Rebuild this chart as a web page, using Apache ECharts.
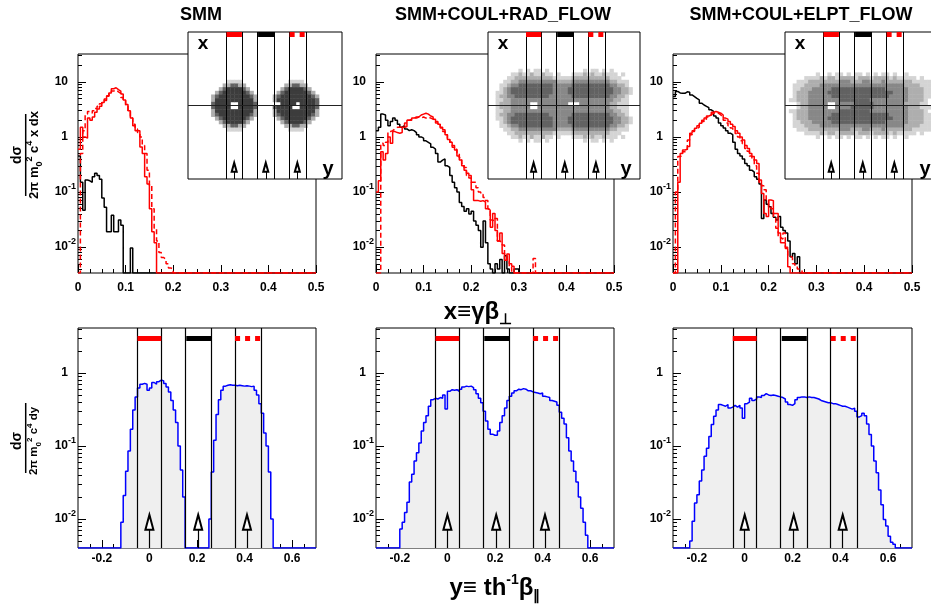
<!DOCTYPE html>
<html>
<head>
<meta charset="utf-8">
<script src="https://cdn.jsdelivr.net/npm/echarts@6/dist/echarts.min.js"></script>
<style>
html, body { margin: 0; padding: 0; background: #ffffff; }
#chart { width: 931px; height: 606px; }
</style>
</head>
<body>
<div id="chart"></div>
<script>
// ===================== DATA =====================
const panelTitles = ['SMM', 'SMM+COUL+RAD_FLOW', 'SMM+COUL+ELPT_FLOW'];

// Top row: dσ/(2π m0² c⁴ x dx) vs x≡γβ⊥ ; histogram bins of 0.005 starting at x = 0 (0 = empty bin)
const xBinWidth = 0.005;
const smmBlack   = [0.45, 0.15, 0.047, 0.165, 0.16, 0.15, 0.19, 0.22, 0.2, 0.17, 0.078, 0.053, 0.019, 0.019, 0.038, 0.019, 0.019, 0.031, 0.025, 0, 0, 0, 0.0097];
const smmRed     = [0.6, 1.5, 1.0, 0.95, 2.2, 2.0, 2.3, 2.8, 3.2, 3.6, 4.2, 4.6, 5.5, 6.3, 7.5, 7.8, 7.2, 6.8, 6.0, 4.7, 3.9, 3.0, 2.2, 1.6, 1.3, 1.3, 0.66, 0.5, 0.19, 0.14, 0.05, 0.019, 0.012];
const smmRedDash = [0, 0.5, 1.3, 2.6, 2.9, 2.7, 3.0, 3.3, 3.6, 4.0, 4.4, 4.9, 5.6, 6.2, 6.8, 7.1, 6.6, 6.2, 5.2, 4.6, 3.6, 2.9, 2.2, 1.7, 1.4, 1.2, 1.0, 0.7, 0.5, 0.25, 0.13, 0.05, 0.022, 0.013, 0.008, 0.0065, 0.006, 0.005, 0.0042, 0.004];

const radBlack   = [1.3, 1.5, 2.6, 2.5, 2.0, 1.6, 1.9, 2.2, 2.0, 1.7, 1.5, 1.6, 1.4, 1.3, 1.35, 1.3, 1.2, 1.1, 1.0, 0.95, 0.85, 0.8, 0.75, 0.65, 0.6, 0.5, 0.35, 0.38, 0.4, 0.3, 0.28, 0.2, 0.15, 0.12, 0.1, 0.065, 0.055, 0.045, 0.05, 0.04, 0.045, 0.03, 0.025, 0.02, 0.01, 0.03, 0.012, 0.005, 0.004, 0, 0.005, 0.004, 0.006, 0, 0.007, 0.004, 0, 0, 0.004, 0.004];
const radRed     = [0.1, 0.16, 0.54, 0.38, 0.5, 1.0, 0.77, 1.25, 1.2, 1.17, 1.2, 1.5, 1.55, 2.0, 2.0, 2.2, 2.3, 2.3, 2.5, 2.6, 2.7, 2.6, 2.4, 2.3, 2.1, 1.9, 1.7, 1.5, 1.35, 1.1, 0.9, 0.8, 0.65, 0.58, 0.45, 0.38, 0.3, 0.25, 0.22, 0.2, 0.11, 0.07, 0.07, 0.068, 0.07, 0.066, 0.05, 0.047, 0.023, 0.041, 0.02, 0.013, 0.018, 0.0077, 0.0058, 0.0075, 0.005, 0.0045];
const radRedDash = [0, 0, 0.77, 0.7, 0.8, 1.25, 1.3, 1.4, 1.5, 1.5, 1.55, 1.6, 1.8, 2.0, 2.1, 2.2, 2.2, 2.3, 2.2, 2.3, 2.2, 2.3, 2.2, 2.1, 2.0, 1.8, 1.6, 1.45, 1.25, 1.1, 0.95, 0.8, 0.7, 0.6, 0.5, 0.42, 0.33, 0.28, 0.2, 0.18, 0.15, 0.15, 0.12, 0.1, 0.09, 0.08, 0.07, 0.05, 0.031, 0.03, 0.033, 0.013, 0.012, 0.011, 0.0075, 0.006, 0.0045, 0, 0, 0, 0, 0, 0, 0, 0, 0, 0.0062];

const elptBlack   = [5.4, 6.7, 6.3, 6.2, 6.2, 6.6, 6.5, 5.8, 5.4, 5.0, 4.7, 4.1, 3.8, 3.6, 3.4, 3.1, 2.9, 2.4, 2.2, 1.8, 1.6, 1.45, 1.3, 1.17, 1.1, 0.8, 0.6, 0.5, 0.45, 0.4, 0.33, 0.3, 0.25, 0.23, 0.19, 0.17, 0.14, 0.033, 0.072, 0.06, 0.054, 0.041, 0.035, 0.031, 0.036, 0.023, 0.02, 0.018, 0.013, 0.0067, 0.0077, 0.005, 0.0067];
const elptRed     = [0, 0, 0.15, 0.5, 0.58, 0.6, 0.67, 1.17, 1.3, 1.44, 1.6, 1.77, 2.0, 2.2, 2.4, 2.5, 2.8, 2.9, 2.8, 2.7, 2.5, 2.2, 2.1, 1.9, 1.7, 1.54, 1.3, 1.17, 1.0, 0.88, 0.7, 0.62, 0.5, 0.44, 0.38, 0.33, 0.165, 0.094, 0.041, 0.036, 0.072, 0.07, 0.041, 0.041, 0.018, 0.012, 0.012, 0.0095, 0.0044];
const elptRedDash = [0, 0.1, 0.44, 0.46, 0.54, 0.55, 0.88, 1.1, 1.25, 1.4, 1.5, 1.7, 1.9, 2.1, 2.3, 2.5, 2.7, 2.8, 2.7, 2.5, 2.3, 2.0, 1.8, 1.6, 1.45, 1.3, 1.15, 1.0, 0.85, 0.75, 0.62, 0.55, 0.45, 0.38, 0.3, 0.22, 0.15, 0.13, 0.11, 0.07, 0.055, 0.05, 0.035, 0.022, 0.015, 0.014, 0.018, 0.01, 0.007, 0.0065, 0.005, 0.0045, 0.004, 0.0038];

// Bottom row: dσ/(2π m0² c⁴ dy) vs y≡th⁻¹β∥ ; bins of 0.01
const yBinWidth = 0.01;
const smmYStart = -0.12;
const smmY = [0.009, 0.021, 0.045, 0.085, 0.17, 0.31, 0.47, 0.62, 0.70, 0.72, 0.70, 0.58, 0.62, 0.74, 0.70, 0.76, 0.80, 0.78, 0.72, 0.64, 0.55, 0.42, 0.31, 0.21, 0.10, 0.047, 0.02,
  0, 0, 0, 0, 0, 0, 0, 0, 0, 0,
  0.01, 0.044, 0.12, 0.27, 0.43, 0.58, 0.66, 0.68, 0.69, 0.68, 0.68, 0.67, 0.68, 0.67, 0.66, 0.67, 0.66, 0.65, 0.66, 0.58, 0.50, 0.38, 0.28, 0.15, 0.10, 0.044, 0.01];
const radYStart = -0.2;
const radY = [0.0073, 0.009, 0.0123, 0.017, 0.032, 0.041, 0.062, 0.081, 0.11, 0.16,
  0.21, 0.26, 0.35, 0.43, 0.45, 0.44, 0.46, 0.45, 0.50, 0.32,
  0.56, 0.59, 0.58, 0.59, 0.56, 0.60, 0.64, 0.66, 0.65, 0.66,
  0.63, 0.59, 0.52, 0.45, 0.39, 0.30, 0.22, 0.17, 0.145, 0.14,
  0.14, 0.16, 0.21, 0.26, 0.33, 0.42, 0.48, 0.53, 0.57, 0.60,
  0.59, 0.61, 0.60, 0.57, 0.57, 0.55, 0.54, 0.53, 0.52, 0.53,
  0.48, 0.47, 0.46, 0.42, 0.41, 0.40, 0.36, 0.29, 0.24, 0.20,
  0.13, 0.085, 0.062, 0.045, 0.032, 0.02, 0.014, 0.009, 0.006];
const elptYStart = -0.23;
const elptY = [0.005, 0.0093, 0.0166, 0.0215, 0.033, 0.047, 0.072, 0.093, 0.135, 0.196,
  0.255, 0.31, 0.37, 0.36, 0.35, 0.37, 0.33, 0.34, 0.36, 0.34,
  0.36, 0.33, 0.24, 0.38, 0.40, 0.45, 0.42, 0.44, 0.47, 0.46,
  0.49, 0.52, 0.50, 0.49, 0.50, 0.49, 0.48, 0.47, 0.46, 0.44,
  0.40, 0.37, 0.36, 0.38, 0.43, 0.46, 0.47, 0.47, 0.46, 0.47,
  0.46, 0.46, 0.45, 0.44, 0.42, 0.41, 0.40, 0.39, 0.39, 0.38,
  0.38, 0.37, 0.36, 0.35, 0.35, 0.34, 0.33, 0.32, 0.33, 0.30,
  0.25, 0.26, 0.28, 0.26, 0.20, 0.143, 0.10, 0.062, 0.043, 0.025,
  0.0157, 0.0098, 0.008, 0.0058, 0.0048, 0.0045];

// rapidity windows (red / black / red-dashed) and arrow positions
const bands = [[-0.05, 0.05], [0.155, 0.26], [0.36, 0.465]];
const arrowPositions = [0, 0.205, 0.41];

// inset density maps (y from -0.3 to 0.7 in 40 columns, x from +0.25 down to -0.25 in 20 rows; digit = gray level)
const insetCell = 0.025;
const insetSMM = [
  '', '', '',
  '..........1111............1111..........',
  '.........224422..........224422.........',
  '........24555542........24555542........',
  '.......2455555542......2455555542.......',
  '......245555555542....245555555542......',
  '......255555555552....255555555554......',
  '......45555..55554......5555.55554......',
  '......45555..55554....45555..55554......',
  '......255555555552....255555555552......',
  '......245555555542....245555555542......',
  '.......2455555542......2455555542.......',
  '........24555542........24555542........',
  '.........224422..........224422.........',
  '..........1111............1111..........',
  '', '', ''
];
const insetRAD = [
  '........1. 1.11.1.... .....1.11. 1.1.......',
  '......1121 1211211.1. ..11121211 2111.1....',
  '.....11222 2222222111 1122222222 22111.....',
  '....112233 3333333322 2233333333 3322111...',
  '...1123344 4444444333 3344444444 4433221...',
  '...1234444 4444444333 3444444444 44433221..',
  '..11234444 4444444333 3444444444 44433221..',
  '..12233444 4444443333 3344444444 4433221...',
  '..11223333 3333333333 3333333333 3332211...',
  '..12223333 3..3333333 3...333333 3322111...',
  '..12223333 3..3333333 3333333333 3322111...',
  '..11223333 3333333333 3333333333 3332211...',
  '..12233444 4444443333 3344444444 4433221...',
  '..11234444 4444444333 3444444444 44433221..',
  '...1234444 4444444333 3444444444 44433221..',
  '...1123344 4444444333 3344444444 4433221...',
  '....112233 3333333322 2233333333 3322111...',
  '.....11222 2222222111 1122222222 22111.....',
  '......1121 1211211.1. ..11121211 2111.1....',
  '........1. 1.11.1.... .....1.11. 1.1.......'
];
const insetELPT = [
  '',
  '........1. .1.11.1.11 .1.1.11.1. .1........',
  '.....11112 1221222212 2212222121 1111.1....',
  '...1112222 2222333222 3322232222 22211111..',
  '..11122223 3333333333 3333333333 32222111..',
  '..11222333 3344444444 4444443333 33222211..',
  '..12223333 3444444444 4444444433 33222211..',
  '..12223333 3344444444 4444444333 33222211..',
  '.112223333 3333444444 4433333333 3322221...',
  '...1223333 3..3333344 4443333333 3222211...',
  '...1223333 3..3333444 4443333333 33222111..',
  '.112223333 3333444444 4433333333 3322221...',
  '..12223333 3344444444 4444444333 33222211..',
  '..12223333 3444444444 4444444433 33222211..',
  '..11222333 3344444444 4444443333 33222211..',
  '..11122223 3333333333 3333333333 32222111..',
  '...1112222 2222333222 3322232222 22211111..',
  '.....11112 1221222212 2212222121 1111.1....',
  '........1. .1.11.1.11 .1.1.11.1. .1........',
  ''
];

// axis ticks and labels
const topXTicks = [0, 0.1, 0.2, 0.3, 0.4, 0.5];
const topXLabels = ['0', '0.1', '0.2', '0.3', '0.4', '0.5'];
const topYTicks = [0.01, 0.1, 1, 10];
const topYLabels = ['10^-2', '10^-1', '1', '10'];
const botXTicks = [-0.2, 0, 0.2, 0.4, 0.6];
const botXLabels = ['-0.2', '0', '0.2', '0.4', '0.6'];
const botYTicks = [0.01, 0.1, 1];
const botYLabels = ['10^-2', '10^-1', '1'];

// ===================== BUILD =====================
const FONT = '"Liberation Sans", Arial, Helvetica, sans-serif';
const X_TOP = [0, 0.5], Y_TOP = [0.0034, 32];
const X_BOT = [-0.3, 0.7], Y_BOT = [0.004, 4.13];
const X_IN = [-0.3, 0.7], Y_IN = [-0.5, 0.5];
const GRAYS = ['#ffffff', '#d4d4d4', '#aeaeae', '#888888', '#626262', '#3c3c3c'];

const topGrids = [
  {left: 78, top: 54, width: 238, height: 219},
  {left: 376, top: 54, width: 238, height: 219},
  {left: 673, top: 54, width: 239, height: 219}];
const botGrids = [
  {left: 78, top: 328, width: 238, height: 220},
  {left: 376, top: 328, width: 238, height: 220},
  {left: 673, top: 328, width: 239, height: 220}];
const insetGrids = [
  {left: 188, top: 32, width: 154, height: 147},
  {left: 488, top: 32, width: 152, height: 147},
  {left: 785, top: 32, width: 154, height: 147}];

function linMinor(lo, hi, step, majors) {
  const out = [], n = Math.round((hi - lo) / step);
  for (let k = 1; k < n; k++) {
    const v = +(lo + k * step).toFixed(4);
    if (!majors.some(m => Math.abs(m - v) < 1e-6)) out.push(v);
  }
  return out;
}
function logMinor(lo, hi) {
  const out = [];
  for (let e = -3; e <= 2; e++) for (let m = 2; m <= 9; m++) {
    const v = +(m * Math.pow(10, e)).toPrecision(3);
    if (v > lo * 1.0001 && v < hi * 0.9999) out.push(v);
  }
  return out;
}
const topXMinor = linMinor(0, 0.5, 0.025, topXTicks);
const botXMinor = linMinor(-0.3, 0.7, 0.05, botXTicks);
const topYMinor = logMinor(Y_TOP[0], Y_TOP[1]);
const botYMinor = logMinor(Y_BOT[0], Y_BOT[1]);

function findLabel(ticks, labels, v) {
  for (let i = 0; i < ticks.length; i++) {
    if (Math.abs(ticks[i] - v) <= 1e-6 * Math.max(1e-3, Math.abs(ticks[i]))) return labels[i];
  }
  return '';
}
function supLabel(s) {
  const i = s.indexOf('^');
  if (i < 0) return '{b|' + s + '}{h|-1}';
  return '{b|' + s.slice(0, i) + '}{s|' + s.slice(i + 1) + '}';
}
const yRich = {
  b: {fontSize: 12, fontWeight: 'bold', fontFamily: FONT, color: '#000', lineHeight: 20, verticalAlign: 'middle'},
  s: {fontSize: 9, fontWeight: 'bold', fontFamily: FONT, color: '#000', verticalAlign: 'top'},
  h: {fontSize: 9, fontWeight: 'bold', fontFamily: FONT, color: 'rgba(0,0,0,0)', verticalAlign: 'top'}
};

const option = {
  animation: false, backgroundColor: '#ffffff', textStyle: {fontFamily: FONT},
  grid: [], xAxis: [], yAxis: [], series: [], graphic: []
};

function addGrid(g, extra) {
  option.grid.push(Object.assign({show: true, borderColor: '#000', borderWidth: 1, backgroundColor: 'transparent',
    z: 0, containLabel: false, outerBoundsMode: 'none'}, g, extra || {}));
  return option.grid.length - 1;
}
function addAxes(gi, xr, yr, xT, xL, xM, yT, yL, yM, xMargin) {
  const tickLine = {color: '#000', width: 1};
  const xi = option.xAxis.length;
  option.xAxis.push({type: 'value', gridIndex: gi, min: xr[0], max: xr[1], position: 'bottom',
    axisLine: {show: false, onZero: false}, splitLine: {show: false},
    axisTick: {show: true, inside: true, length: 8, customValues: xT, lineStyle: tickLine},
    axisLabel: {show: true, customValues: xT, formatter: v => findLabel(xT, xL, v), margin: xMargin,
      fontSize: 12, fontWeight: 'bold', fontFamily: FONT, color: '#000'}});
  option.xAxis.push({type: 'value', gridIndex: gi, min: xr[0], max: xr[1], position: 'bottom',
    axisLine: {show: false, onZero: false}, splitLine: {show: false},
    axisTick: {show: true, inside: true, length: 4, customValues: xM, lineStyle: tickLine},
    axisLabel: {show: false}});
  const yi = option.yAxis.length;
  option.yAxis.push({type: 'log', logBase: 10, gridIndex: gi, min: yr[0], max: yr[1], position: 'left',
    axisLine: {show: false, onZero: false}, splitLine: {show: false},
    axisTick: {show: true, inside: true, length: 8, customValues: yT, lineStyle: tickLine},
    axisLabel: {show: true, customValues: yT, formatter: v => supLabel(findLabel(yT, yL, v)), margin: 2, rich: yRich}});
  option.yAxis.push({type: 'log', logBase: 10, gridIndex: gi, min: yr[0], max: yr[1], position: 'left',
    axisLine: {show: false, onZero: false}, splitLine: {show: false},
    axisTick: {show: true, inside: true, length: 4, customValues: yM, lineStyle: tickLine},
    axisLabel: {show: false}});
  return [xi, yi];
}
function hist(start, width, values, xr, yMin) {
  const pts = [];
  if (start > xr[0] + 1e-9) pts.push([xr[0], yMin]);
  for (let i = 0; i < values.length; i++) {
    const v = values[i];
    pts.push([+(start + i * width).toFixed(6), v > yMin ? v : yMin]);
  }
  const end = +(start + values.length * width).toFixed(6);
  pts.push([end, yMin]);
  if (end < xr[1]) pts.push([xr[1], yMin]);
  return pts;
}
function lineSeries(xi, yi, data, color, type, area) {
  const s = {type: 'line', xAxisIndex: xi, yAxisIndex: yi, data: data, step: 'end', symbol: 'none', showSymbol: false,
    silent: true, clip: true, z: 2, lineStyle: {color: color, width: 1.5, type: type}, itemStyle: {color: color},
    emphasis: {disabled: true}};
  if (area) s.areaStyle = {color: '#efefef', opacity: 1, origin: 'start'};
  return s;
}
const bandStyles = [{color: '#ff0000', type: 'solid'}, {color: '#000000', type: 'solid'}, {color: '#ff0000', type: [5, 5]}];
function windowMarks(yBar, barW, yLow, yHead, headSize, lineW, withCenter, z) {
  const data = [];
  bands.forEach(b => b.forEach(e => data.push({xAxis: e, lineStyle: {color: '#000', width: lineW, type: 'solid'}})));
  if (withCenter) data.push({yAxis: 0, lineStyle: {color: '#222', width: 1, type: 'solid'}});
  bands.forEach((b, i) => data.push([
    {coord: [b[0], yBar], lineStyle: {color: bandStyles[i].color, width: barW, type: bandStyles[i].type, cap: 'butt'}},
    {coord: [b[1], yBar]}]));
  arrowPositions.forEach(a => data.push([
    {coord: [a, yLow], symbol: 'none', lineStyle: {color: '#000', width: lineW, type: 'solid'}},
    {coord: [a, yHead], symbol: 'emptyTriangle', symbolSize: headSize}]));
  return {silent: true, animation: false, z: z, symbol: ['none', 'none'], label: {show: false}, emphasis: {disabled: true}, data: data};
}

// top panels
const topSets = [
  {black: smmBlack, red: smmRed, dash: smmRedDash},
  {black: radBlack, red: radRed, dash: radRedDash},
  {black: elptBlack, red: elptRed, dash: elptRedDash}];
topSets.forEach((set, i) => {
  const gi = addGrid(topGrids[i]);
  const [xi, yi] = addAxes(gi, X_TOP, Y_TOP, topXTicks, topXLabels, topXMinor, topYTicks, topYLabels, topYMinor, 9);
  option.series.push(lineSeries(xi, yi, hist(0, xBinWidth, set.black, X_TOP, Y_TOP[0]), '#000000', 'solid'));
  option.series.push(lineSeries(xi, yi, hist(0, xBinWidth, set.red, X_TOP, Y_TOP[0]), '#ff0000', 'solid'));
  option.series.push(lineSeries(xi, yi, hist(0, xBinWidth, set.dash, X_TOP, Y_TOP[0]), '#ff0000', [5, 3]));
});

// bottom panels
const botSets = [[smmYStart, smmY], [radYStart, radY], [elptYStart, elptY]];
botSets.forEach((set, i) => {
  const gi = addGrid(botGrids[i]);
  const [xi, yi] = addAxes(gi, X_BOT, Y_BOT, botXTicks, botXLabels, botXMinor, botYTicks, botYLabels, botYMinor, 5);
  option.series.push(lineSeries(xi, yi, hist(set[0], yBinWidth, set[1], X_BOT, Y_BOT[0]), '#0000ff', 'solid', true));
  option.series.push({type: 'line', xAxisIndex: xi, yAxisIndex: yi, data: [], z: 3, silent: true,
    markLine: windowMarks(3, 5, Y_BOT[0], 0.009, [8, 15], 1.2, false, 5)});
});

// insets
function insetCells(rows) {
  const out = [];
  rows.forEach((row, r) => {
    const s = row.replace(/ /g, '');
    for (let c = 0; c < s.length; c++) {
      const lv = s.charCodeAt(c) - 48;
      if (lv >= 1 && lv <= 5) out.push([X_IN[0] + insetCell * (c + 0.5), 0.25 - insetCell * (r + 0.5), lv]);
    }
  });
  return out;
}
[insetSMM, insetRAD, insetELPT].forEach((rows, i) => {
  const gi = addGrid(insetGrids[i], {backgroundColor: '#ffffff', z: 10});
  const xi = option.xAxis.length;
  option.xAxis.push({type: 'value', gridIndex: gi, min: X_IN[0], max: X_IN[1], show: false});
  const yi = option.yAxis.length;
  option.yAxis.push({type: 'value', gridIndex: gi, min: Y_IN[0], max: Y_IN[1], show: false});
  option.series.push({type: 'custom', xAxisIndex: xi, yAxisIndex: yi, data: insetCells(rows), z: 11, silent: true, clip: true,
    renderItem: function (params, api) {
      const p = api.coord([api.value(0), api.value(1)]);
      const sz = api.size([insetCell, insetCell]);
      return {type: 'rect', shape: {x: p[0] - sz[0] / 2, y: p[1] - sz[1] / 2, width: sz[0] + 0.4, height: sz[1] + 0.4},
        style: {fill: GRAYS[api.value(2)]}};
    }});
  option.series.push({type: 'line', xAxisIndex: xi, yAxisIndex: yi, data: [], z: 12, silent: true,
    markLine: windowMarks(0.483, 5, Y_IN[0], -0.42, [5, 9], 1, true, 13)});
});

// texts
function txt(x, y, text, size, rich) {
  const st = {text: text, fontSize: size, fontWeight: 'bold', fontFamily: FONT, fill: '#000',
    align: 'center', verticalAlign: 'middle', textAlign: 'center', textVerticalAlign: 'middle'};
  if (rich) st.rich = rich;
  return {type: 'text', x: x, y: y, z: 100, silent: true, style: st};
}
function rs(size, va, extra) {
  return Object.assign({fontSize: size, fontWeight: 'bold', fontFamily: FONT, fill: '#000', color: '#000', verticalAlign: va}, extra || {});
}
const titleX = [201, 503, 801];
panelTitles.forEach((t, i) => option.graphic.push(txt(titleX[i], 15, t, 18)));
option.graphic.push(txt(478, 312, '{m|x≡γβ}{s|⊥}', 24, {m: rs(24, 'middle', {lineHeight: 30}), s: rs(15, 'bottom')}));
option.graphic.push(txt(495, 588, '{m|y≡ th}{p|-1}{m|β}{s|∥}', 24,
  {m: rs(24, 'middle', {lineHeight: 30}), p: rs(14, 'top'), s: rs(14, 'bottom')}));
insetGrids.forEach(g => {
  option.graphic.push(txt(g.left + 15, g.top + 12, 'x', 19));
  option.graphic.push(txt(g.left + g.width - 14, g.top + g.height - 10, 'y', 20));
});
function fraction(cx, cy, halfLen, numSize, denSize, denText, lineOff) {
  const rich = {n: rs(denSize, 'middle', {lineHeight: denSize + 6}), sp: rs(Math.round(denSize * 0.68), 'top'), sb: rs(Math.round(denSize * 0.68), 'bottom')};
  return {type: 'group', x: cx, y: cy, rotation: Math.PI / 2, z: 100, silent: true, children: [
    txt(0, -8.5, 'dσ', numSize),
    {type: 'line', z: 100, silent: true, shape: {x1: -halfLen + lineOff, y1: 0, x2: halfLen + lineOff, y2: 0}, style: {stroke: '#000', lineWidth: 1.5}},
    txt(0, 8.5, denText, denSize, rich)
  ]};
}
option.graphic.push(fraction(25.7, 155, 41, 14, 13, '{n|2π m}{sb|0}{sp|2}{n| c}{sp|4}{n| x dx}', 0));
option.graphic.push(fraction(25.7, 441, 35, 14, 11.5, '{n|2π m}{sb|0}{sp|2}{n| c}{sp|4}{n| dy}', 3));

const chart = echarts.init(document.getElementById('chart'), null, {renderer: 'canvas'});
chart.setOption(option);
</script>
</body>
</html>
